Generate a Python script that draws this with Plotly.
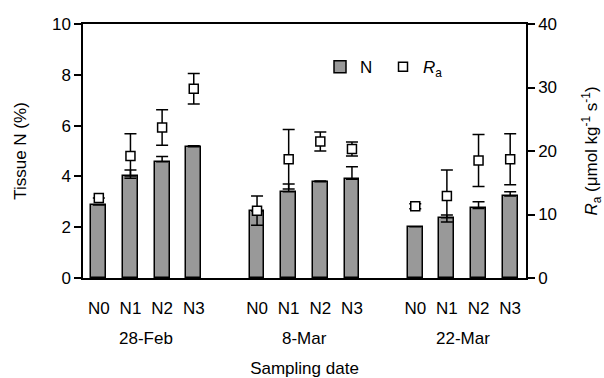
import plotly.graph_objects as go

dates = ["28-Feb", "8-Mar", "22-Mar"]
treatments = ["N0", "N1", "N2", "N3"]

tissue_n = [[2.87, 4.02, 4.58, 5.17],
            [2.64, 3.40, 3.79, 3.89],
            [2.02, 2.37, 2.74, 3.23]]
tissue_n_err = [[0.0, 0.23, 0.20, 0.04],
                [0.0, 0.30, 0.03, 0.49],
                [0.0, 0.11, 0.26, 0.17]]

ra = [[12.6, 19.2, 23.7, 29.8],
      [10.6, 18.7, 21.5, 20.3],
      [11.3, 12.9, 18.5, 18.7]]
ra_err = [[0.0, 3.5, 2.8, 2.4],
          [2.3, 4.7, 1.5, 1.1],
          [0.4, 4.1, 4.1, 4.0]]

# slot layout: 4 treatments per date, one empty slot between dates
xs, ticktext, n_vals, n_errs, ra_vals, ra_errs = [], [], [], [], [], []
for g, d in enumerate(dates):
    for i, t in enumerate(treatments):
        xs.append(g * (len(treatments) + 1) + i)
        ticktext.append(t)
        n_vals.append(tissue_n[g][i])
        n_errs.append(tissue_n_err[g][i])
        ra_vals.append(ra[g][i])
        ra_errs.append(ra_err[g][i])

FONT = "Liberation Sans, Arial, sans-serif"
FS = 17
TXT = dict(size=FS, color="black", family=FONT)

fig = go.Figure()
fig.add_trace(go.Bar(
    x=xs, y=n_vals, name="N", width=0.47,
    marker=dict(color="#999999", line=dict(color="black", width=1.5)),
    error_y=dict(type="data", array=n_errs, arrayminus=[0] * len(n_errs),
                 symmetric=False, color="black", thickness=1.5, width=6),
))
fig.add_trace(go.Scatter(
    x=xs, y=ra_vals, name="<i>R</i><sub>a</sub>", yaxis="y2", mode="markers",
    marker=dict(symbol="square", size=9, color="white",
                line=dict(color="black", width=1.5)),
    error_y=dict(type="data", array=ra_errs, color="black", thickness=1.5, width=6),
))

for g, d in enumerate(dates):
    fig.add_annotation(
        x=g * (len(treatments) + 1) + (len(treatments) - 1) / 2, xref="x",
        y=0, yref="paper", yanchor="middle", yshift=-60,
        text=d, showarrow=False, font=TXT)

fig.update_layout(
    width=604, height=378,
    margin=dict(l=83, r=78, t=24, b=100, autoexpand=False),
    paper_bgcolor="white", plot_bgcolor="white",
    font=TXT,
    showlegend=True,
    legend=dict(orientation="h", x=0.535, y=0.83, xanchor="left", yanchor="middle",
                bgcolor="rgba(0,0,0,0)", font=TXT,
                entrywidth=18, entrywidthmode="pixels", itemwidth=30),
    bargap=0,
    xaxis=dict(
        range=[-0.5, 13.5], tickvals=xs, ticktext=ticktext, ticks="",
        showgrid=False, zeroline=False, showline=True, linecolor="black",
        linewidth=1.5, mirror=True, tickfont=TXT,
        ticklabelstandoff=14,
        title=dict(text="Sampling date", standoff=47, font=TXT),
    ),
    yaxis=dict(
        range=[0, 10], dtick=2, ticks="outside", ticklen=7, tickwidth=1.5,
        tickcolor="black", showgrid=False, zeroline=False, showline=True,
        linecolor="black", linewidth=1.5, tickfont=TXT,
        title=dict(text="Tissue N (%)", standoff=21, font=TXT),
    ),
    yaxis2=dict(
        range=[0, 40], dtick=10, overlaying="y", side="right", ticks="outside",
        ticklen=7, tickwidth=1.5, tickcolor="black", showgrid=False,
        zeroline=False, showline=True, linecolor="black", linewidth=1.5,
        tickfont=TXT,
        title=dict(text="<i>R</i><sub>a</sub> (μmol kg<sup>-1</sup> s<sup>-1</sup>)",
                   standoff=29, font=TXT),
    ),
)

fig.write_html("out.html")
